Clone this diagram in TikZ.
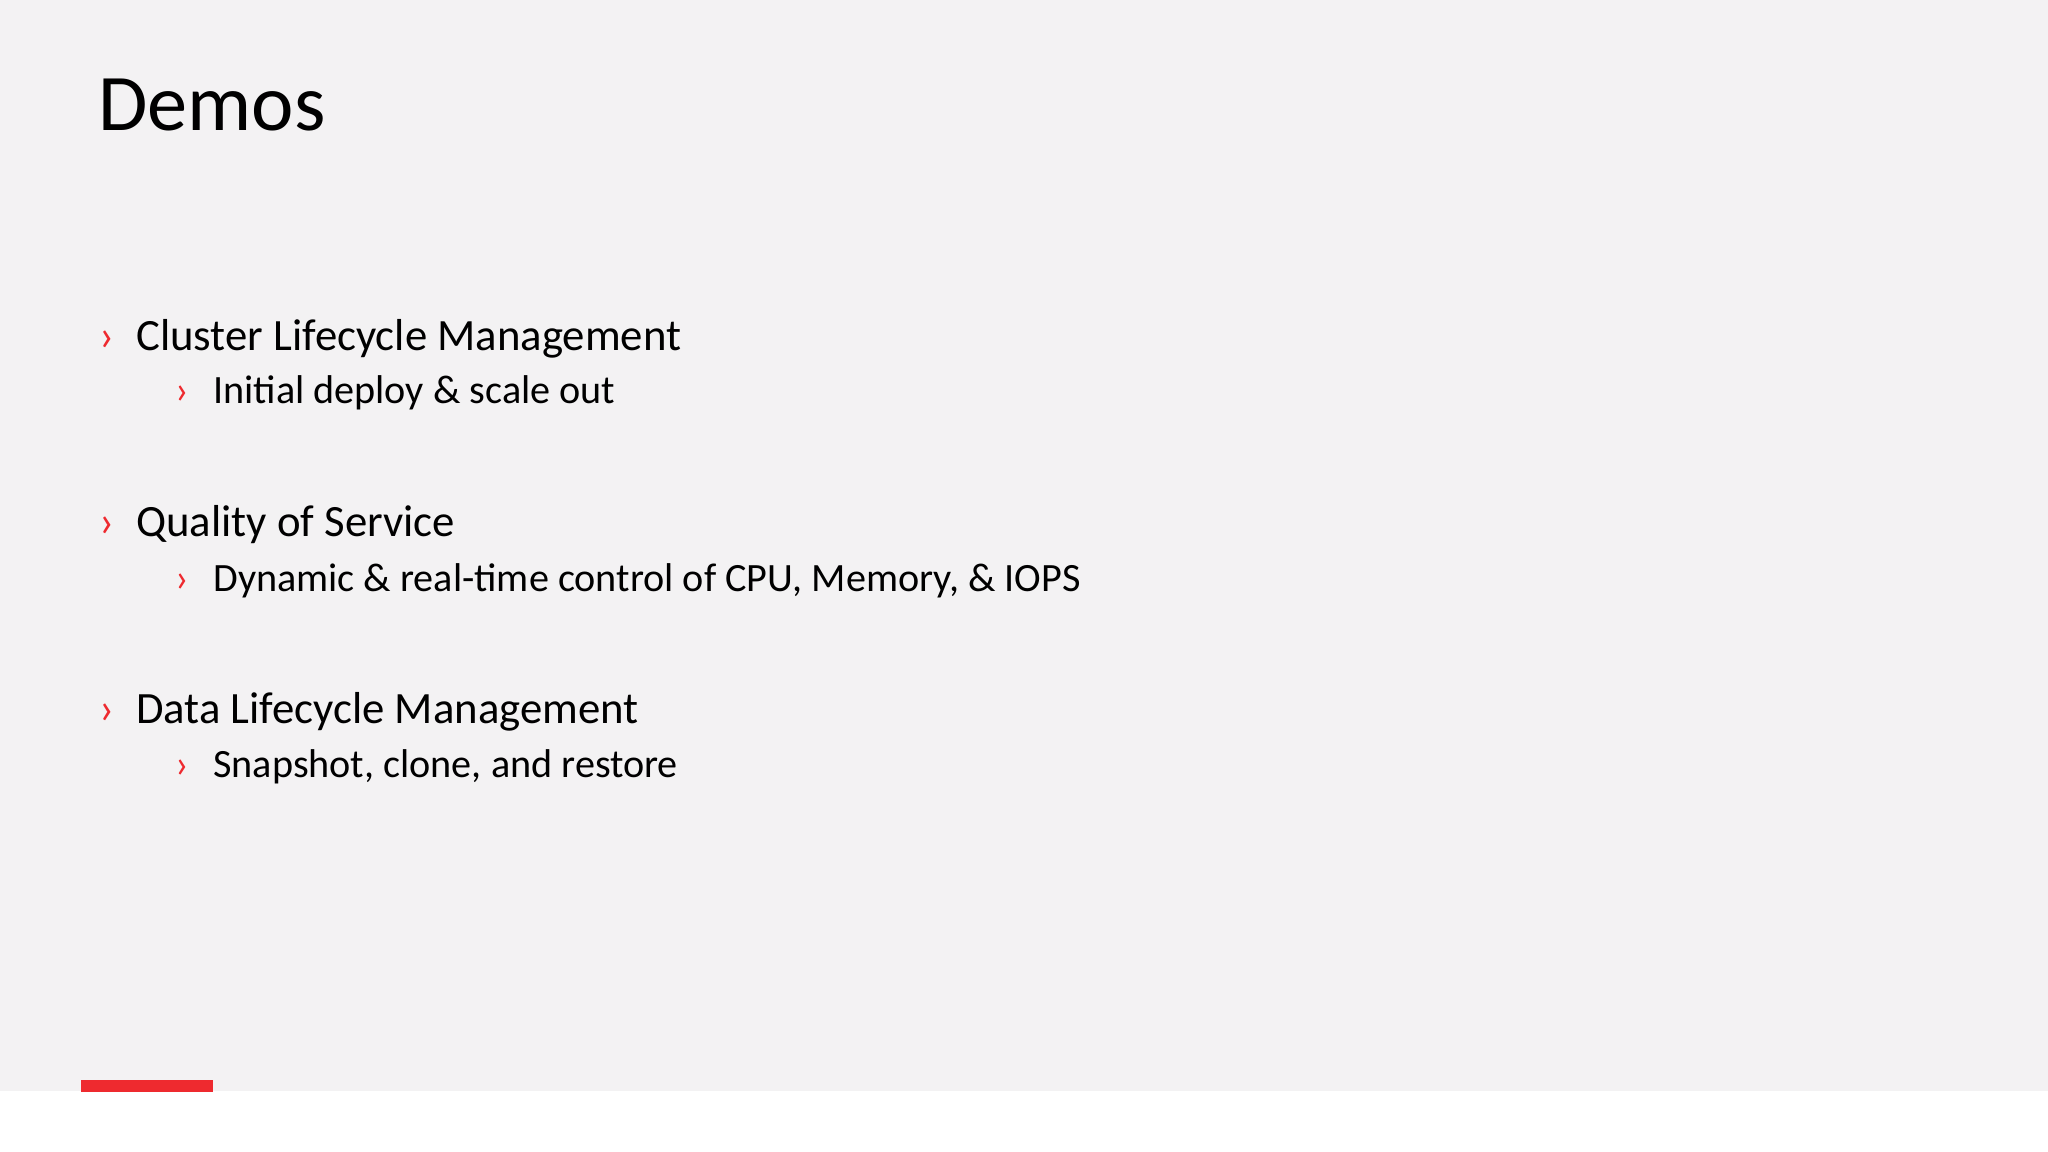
\documentclass[tikz,border=0pt]{standalone}
\usepackage{fontspec}
\setmainfont{Carlito}
\definecolor{bg}{HTML}{F3F2F3}
\definecolor{accent}{HTML}{EE2A2F}
\begin{document}
\begin{tikzpicture}[x=0.02cm,y=-0.02cm,
  txt/.style={anchor=base west,inner sep=0pt,text=black},
  lone/.style={txt,font=\fontsize{19.5pt}{23pt}\selectfont},
  ltwo/.style={txt,font=\fontsize{17.5pt}{21pt}\selectfont},
  bul/.style={anchor=base west,inner sep=0pt,text=accent}]
\useasboundingbox (0,0) rectangle (1568,882);
\fill[white] (0,0) rectangle (1568,882);
\fill[bg] (0,0) rectangle (1568,835);
\fill[accent] (62,827) rectangle (163,836);
\node[txt,font=\fontsize{35pt}{40pt}\selectfont] (title) at (75,100) {Demos};
\node[bul,font=\fontsize{19.5pt}{23pt}\selectfont] (b1) at (76,268) {›};
\node[lone] (t1) at (104,268) {Cluster Lifecycle Management};
\node[bul,font=\fontsize{17.5pt}{21pt}\selectfont] (b1a) at (134,309) {›};
\node[ltwo] (t1a) at (163,309) {Initial deploy \& scale out};
\node[bul,font=\fontsize{19.5pt}{23pt}\selectfont] (b2) at (76,411) {›};
\node[lone] (t2) at (104,411) {Quality of Service};
\node[bul,font=\fontsize{17.5pt}{21pt}\selectfont] (b2a) at (134,453) {›};
\node[ltwo] (t2a) at (163,453) {Dynamic \& real-time control of CPU, Memory, \& IOPS};
\node[bul,font=\fontsize{19.5pt}{23pt}\selectfont] (b3) at (76,554) {›};
\node[lone] (t3) at (104,554) {Data Lifecycle Management};
\node[bul,font=\fontsize{17.5pt}{21pt}\selectfont] (b3a) at (134,595) {›};
\node[ltwo] (t3a) at (163,595) {Snapshot, clone, and restore};
\end{tikzpicture}
\end{document}
